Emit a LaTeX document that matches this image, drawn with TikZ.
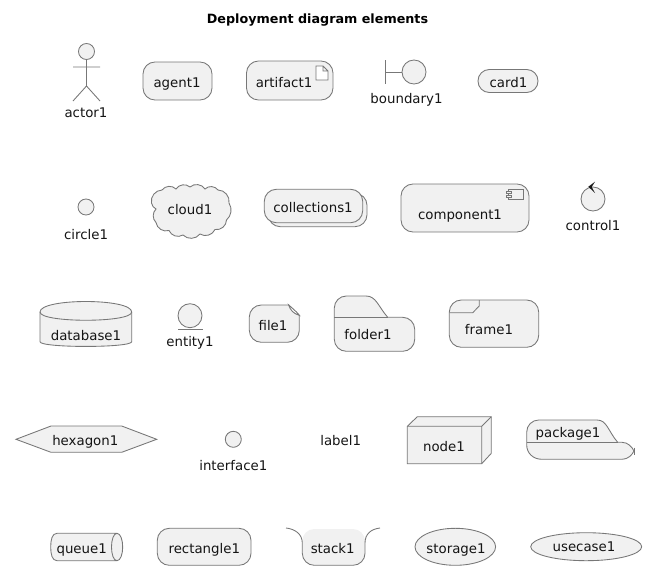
\documentclass[tikz,border=0pt]{standalone}
\usepackage{fontspec}
\setmainfont{DejaVu Sans}
\definecolor{elfill}{HTML}{F1F1F1}
\definecolor{elline}{HTML}{777777}
\tikzset{
  x=0.75pt,y=-0.75pt,
  el/.style={draw=elline,fill=elfill,line width=0.65pt},
  ln/.style={draw=elline,line width=0.65pt},
  txt/.style={inner sep=0pt,text height=7.5pt,text depth=0pt,font=\fontsize{10pt}{12pt}\selectfont,text=black!92}
}
\begin{document}
\begin{tikzpicture}
\useasboundingbox (0,0) rectangle (649,571);
\node[inner sep=0pt,text height=7pt,text depth=0pt,font=\bfseries\fontsize{9.55pt}{12pt}\selectfont] (title) at (317.5,19) {Deployment diagram elements};

% actor
\path[el] (86.5,51.5) circle[radius=8];
\path[ln] (86.5,59.5) -- (86.5,86) (73,67) -- (100,67) (73,101) -- (86.5,86) -- (100,101);
\node[txt] (actor1) at (86,112) {actor1};
% agent
\path[el,rounded corners=9pt] (143,62) rectangle (212,100);
\node[txt] (agent1) at (177,82) {agent1};
% artifact
\path[el,rounded corners=9pt] (246.5,61) rectangle (333,100);
\path[ln,fill=white] (316,66) -- (323,66) -- (328,71) -- (328,80) -- (316,80) -- cycle (323,66) -- (323,71) -- (328,71);
\node[txt] (artifact1) at (284,82) {artifact1};
% boundary
\path[ln] (385.5,60) -- (385.5,84) (385.5,72) -- (402,72);
\path[el] (414,72) circle[radius=12];
\node[txt] (boundary1) at (406.5,98) {boundary1};
% card
\path[el,rounded corners=8.5pt] (478,69.5) rectangle (538,92.5);
\node[txt] (card1) at (508.5,82) {card1};

% circle
\path[el] (86,207) circle[radius=8];
\node[txt] (circle1) at (86,234) {circle1};
% cloud
\path[el] (151.5,203) to[bend left=50] (162,190) to[bend left=50] (176,189) to[bend left=50] (190,187) to[bend left=50] (205,189) to[bend left=50] (218,190) to[bend left=50] (229,203) to[bend left=40] (226.5,220) to[bend left=50] (215,229.5) to[bend left=50] (200,234) to[bend left=50] (183,235) to[bend left=50] (169,230.5) to[bend left=50] (156,222.5) to[bend left=45] (156,209) to[bend left=25] cycle;
\node[txt] (cloud1) at (190,209) {cloud1};
% collections
\path[el,rounded corners=9pt] (268.3,193.3) rectangle (367,226.7);
\path[el,rounded corners=9pt] (264.3,189.3) rectangle (362.7,222.7);
\node[txt] (collections1) at (313,207) {collections1};
% component
\path[el,rounded corners=9pt] (401,184) rectangle (529,232);
\path[ln] (508.5,189.3) rectangle (523.7,199.3);
\path[ln,fill=elfill] (506,191.2) rectangle (511,193.7) (506,195) rectangle (511,197.5);
\node[txt] (component1) at (460,214) {component1};
% control
\path[el] (593,199) circle[radius=12];
\path[fill=black!90] (588.3,186.7) -- (595,181.7) -- (591.7,187) -- (595,193) -- cycle;
\node[txt] (control1) at (593,225) {control1};

% database
\path[el] (40,312) .. controls (40,298) and (131.7,298) .. (131.7,312) -- (131.7,341.7) .. controls (131.7,348) and (40,348) .. (40,341.7) -- cycle;
\path[ln] (40,312) .. controls (40,323) and (131.7,323) .. (131.7,312);
\node[txt] (database1) at (86,335) {database1};
% entity
\path[el] (190,315.7) circle[radius=12];
\path[ln] (178,329.3) -- (202.5,329.3);
\node[txt] (entity1) at (190,341) {entity1};
% file
\path[el] (261.3,305) -- (288.7,305) -- (299.3,315.3) -- (299.3,330.3) arc[start angle=0,end angle=90,radius=12] -- (261.3,342.3) arc[start angle=90,end angle=180,radius=12] -- (249.3,317) arc[start angle=180,end angle=270,radius=12] -- cycle;
\path[ln,fill=white] (288.7,305) .. controls (290,310) and (294,314) .. (299.3,315.3) .. controls (296,311) and (292,308) .. (288.7,305) -- cycle;
\node[txt] (file1) at (273,325) {file1};
% folder
\path[el] (334.3,308) arc[start angle=180,end angle=270,radius=12] -- (366,296) .. controls (376,296) and (378,306) .. (387.7,317.3) -- (402.7,317.3) arc[start angle=-90,end angle=0,radius=12] -- (414.7,339.3) arc[start angle=0,end angle=90,radius=12] -- (346.3,351.3) arc[start angle=90,end angle=180,radius=12] -- cycle;
\path[ln] (334.3,317.3) -- (387.7,317.3);
\node[txt] (folder1) at (368,334) {folder1};
% frame
\path[el,rounded corners=9pt] (449.3,300) rectangle (538.7,347.3);
\path[ln] (449.3,312.7) -- (472.7,312.7) -- (479.3,306) -- (479.3,300);
\node[txt] (frame1) at (489,329.3) {frame1};

% hexagon
\path[el] (16,439.3) -- (51,426) -- (121.7,426) -- (156.7,439.3) -- (121.7,452.3) -- (51,452.3) -- cycle;
\node[txt] (hexagon1) at (85.3,440.7) {hexagon1};
% interface
\path[el] (233.3,439.3) circle[radius=8];
\node[txt] (interface1) at (233.3,465.7) {interface1};
% label
\node[txt] (label1) at (340.7,440.7) {label1};
% node
\path[el] (407.3,426.3) -- (417.3,416.7) -- (491.3,416.7) -- (491.3,453.3) -- (481.7,463.7) -- (407.3,463.7) -- cycle;
\path[ln] (407.3,426.3) -- (481.7,426.3) -- (491.3,416.7) (481.7,426.3) -- (481.7,463.7);
\node[txt] (node1) at (444,446) {node1};
% package
\path[el] (526.7,432) arc[start angle=180,end angle=270,radius=12] -- (597,420) .. controls (607,420) and (608,431) .. (617.7,442.3) -- (622,442.3) .. controls (628,442.3) and (632,447) .. (634,451) .. controls (632,455) and (628,459.3) .. (622,459.3) -- (542,459.3) .. controls (533,459.3) and (526.7,453) .. (526.7,445) -- cycle;
\path[ln] (526.7,442.3) -- (617.7,442.3) (634,447.7) -- (634,455);
\node[txt] (package1) at (568,432.7) {package1};

% queue
\path[el] (117,533.3) -- (57,533.3) .. controls (52,533.3) and (50.7,540) .. (50.7,547) .. controls (50.7,554) and (52,560.7) .. (57,560.7) -- (117,560.7) .. controls (120.5,560.7) and (122.7,554) .. (122.7,547) .. controls (122.7,540) and (120.5,533.3) .. (117,533.3) .. controls (113.5,533.3) and (111.5,540) .. (111.5,547) .. controls (111.5,554) and (113.5,560.7) .. (117,560.7);
\node[txt] (queue1) at (81.7,548.3) {queue1};
% rectangle
\path[el,rounded corners=9pt] (157.3,528.3) rectangle (251,565.3);
\node[txt] (rectangle1) at (204.3,548.3) {rectangle1};
% stack
\path[fill=elfill,rounded corners=9pt] (302.3,529) rectangle (365,565.3);
\path[ln] (286,528) .. controls (295,529) and (302.3,534) .. (302.3,543) -- (302.3,553.3) arc[start angle=180,end angle=90,radius=12] -- (353,565.3) arc[start angle=90,end angle=0,radius=12] -- (365,543) .. controls (365,534) and (371,529) .. (380,528);
\node[txt] (stack1) at (332.7,548.3) {stack1};
% storage
\path[el] (455.3,546.8) ellipse[x radius=40.3,y radius=18.5];
\node[txt] (storage1) at (456,548.3) {storage1};
% usecase
\path[el] (586.2,546.7) ellipse[x radius=55.5,y radius=14];
\node[txt] (usecase1) at (584,546.7) {usecase1};
\end{tikzpicture}
\end{document}
